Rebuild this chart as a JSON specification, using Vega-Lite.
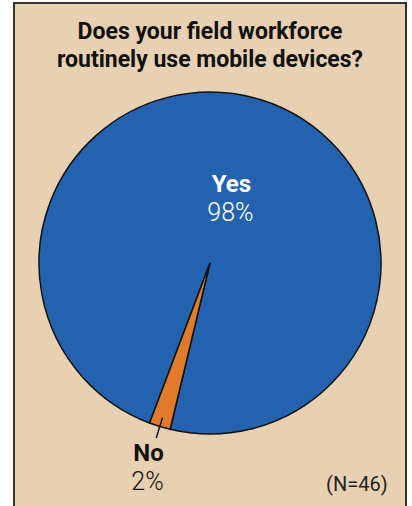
{
  "$schema": "https://vega.github.io/schema/vega-lite/v6.json",
  "width": 392,
  "height": 520,
  "autosize": "none",
  "padding": {"left": 14, "top": 3, "right": 6, "bottom": 0},
  "background": "white",
  "view": {"fill": "#e8d1b2", "stroke": "#333333", "strokeWidth": 2},
  "title": {
    "text": ["Does your field workforce", "routinely use mobile devices?"],
    "font": "Roboto",
    "fontSize": 23,
    "fontWeight": "bold",
    "color": "#111111",
    "anchor": "middle",
    "frame": "group",
    "offset": -69,
    "lineHeight": 28
  },
  "data": {"values": [
    {"answer": "Yes", "percent": 98, "label": "98%"},
    {"answer": "No", "percent": 2, "label": "2%"}
  ]},
  "layer": [
    {
      "mark": {"type": "arc", "outerRadius": 171, "stroke": "#111111", "strokeWidth": 1.5},
      "encoding": {
        "theta": {"field": "percent", "type": "quantitative", "stack": true, "scale": {"range": [3.377, 9.660]}},
        "order": {"field": "answer", "sort": "ascending"},
        "color": {"field": "answer", "type": "nominal", "scale": {"domain": ["No", "Yes"], "range": ["#e07b2b", "#2362ae"]}, "legend": null}
      }
    },
    {
      "data": {"values": [{"answer": "No"}]},
      "mark": {"type": "arc", "innerRadius": 162, "outerRadius": 183, "stroke": "#111111", "strokeWidth": 1.5, "fill": null},
      "encoding": {
        "theta": {"datum": 1, "type": "quantitative"},
        "theta2": {"datum": 1}
      }
    },
    {
      "mark": {"type": "text", "font": "Roboto", "fontSize": 24, "fontWeight": "bold", "align": "center", "baseline": "alphabetic", "dy": -8, "dx": 2},
      "encoding": {
        "theta": {"field": "percent", "type": "quantitative", "stack": true},
        "order": {"field": "answer", "sort": "ascending"},
        "detail": {"field": "answer"},
        "radius": {"field": "percent", "type": "quantitative", "scale": {"type": "linear", "domain": [2, 98], "range": [216, 66], "zero": false}},
        "text": {"field": "answer"},
        "color": {"condition": {"test": "datum.answer == 'Yes'", "value": "white"}, "value": "#111111"}
      }
    },
    {
      "mark": {"type": "text", "font": "Roboto", "fontSize": 25, "fontWeight": 300, "align": "center", "baseline": "alphabetic", "dy": 21, "dx": 1},
      "encoding": {
        "theta": {"field": "percent", "type": "quantitative", "stack": true},
        "order": {"field": "answer", "sort": "ascending"},
        "detail": {"field": "answer"},
        "radius": {"field": "percent", "type": "quantitative"},
        "text": {"field": "label"},
        "color": {"condition": {"test": "datum.answer == 'Yes'", "value": "white"}, "value": "#111111"}
      }
    },
    {
      "data": {"values": [{"note": "(N=46)"}]},
      "mark": {"type": "text", "font": "Roboto", "fontSize": 20, "radius": 271, "align": "center", "baseline": "alphabetic", "color": "#222222"},
      "encoding": {
        "theta": {"datum": 87.14, "type": "quantitative"},
        "text": {"field": "note"}
      }
    }
  ]
}
